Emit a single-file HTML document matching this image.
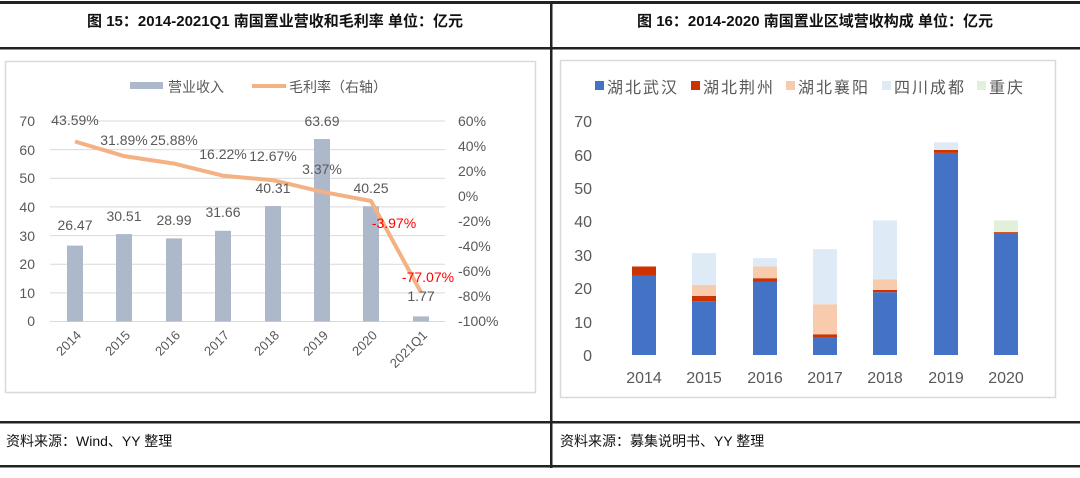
<!DOCTYPE html>
<html><head><meta charset="utf-8"><style>
body{margin:0;width:1080px;height:473px;background:#fff;overflow:hidden;font-family:"Liberation Sans","Noto Sans CJK SC",sans-serif}
</style></head><body>
<svg width="1080" height="473" xmlns="http://www.w3.org/2000/svg" font-family="Liberation Sans, Noto Sans CJK SC, sans-serif">
<rect x="0" y="1" width="1080" height="3" fill="#222"/>
<rect x="0" y="47" width="1080" height="2.5" fill="#222"/>
<rect x="0" y="421" width="1080" height="2.5" fill="#222"/>
<rect x="0" y="465" width="1080" height="2.5" fill="#222"/>
<rect x="550" y="1" width="2.5" height="467" fill="#222"/>
<text x="275" y="26" text-anchor="middle" font-size="15" font-weight="bold" fill="#111">图 15：2014-2021Q1 南国置业营收和毛利率 单位：亿元</text>
<text x="815" y="26" text-anchor="middle" font-size="15" font-weight="bold" fill="#111">图 16：2014-2020 南国置业区域营收构成 单位：亿元</text>
<text x="6" y="446" font-size="14" fill="#111">资料来源：Wind、YY 整理</text>
<text x="560" y="446" font-size="14" fill="#111">资料来源：募集说明书、YY 整理</text>

<!-- left chart -->
<rect x="5.5" y="61.5" width="530" height="331" fill="none" stroke="#d9d9d9" stroke-width="1.5"/>
<rect x="130" y="82" width="33" height="7" fill="#ADB9CA"/>
<text x="168" y="92" font-size="14" fill="#595959">营业收入</text>
<line x1="252" y1="86" x2="286" y2="86" stroke="#F4B183" stroke-width="4"/>
<text x="289" y="92" font-size="14" fill="#595959">毛利率（右轴）</text>
<g stroke="#d9d9d9" stroke-width="1">
<line x1="50" y1="121" x2="445" y2="121"/><line x1="50" y1="149.6" x2="445" y2="149.6"/><line x1="50" y1="178.3" x2="445" y2="178.3"/><line x1="50" y1="206.9" x2="445" y2="206.9"/><line x1="50" y1="235.6" x2="445" y2="235.6"/><line x1="50" y1="264.2" x2="445" y2="264.2"/><line x1="50" y1="292.9" x2="445" y2="292.9"/><line x1="50" y1="321.5" x2="445" y2="321.5"/>
</g>
<g font-size="14" fill="#595959" text-anchor="end">
<text x="35" y="126">70</text><text x="35" y="155">60</text><text x="35" y="183">50</text><text x="35" y="212">40</text><text x="35" y="241">30</text><text x="35" y="269">20</text><text x="35" y="298">10</text><text x="35" y="326">0</text>
</g>
<g font-size="14" fill="#595959">
<text x="458" y="126">60%</text><text x="458" y="151">40%</text><text x="458" y="176">20%</text><text x="458" y="201">0%</text><text x="458" y="226">-20%</text><text x="458" y="251">-40%</text><text x="458" y="276">-60%</text><text x="458" y="301">-80%</text><text x="458" y="326">-100%</text>
</g>
<g fill="#ADB9CA">
<rect x="67" y="245.6" width="16" height="75.9"/>
<rect x="116" y="234.1" width="16" height="87.4"/>
<rect x="166" y="238.4" width="16" height="83.1"/>
<rect x="215" y="230.8" width="16" height="90.7"/>
<rect x="265" y="206" width="16" height="115.5"/>
<rect x="314" y="139" width="16" height="182.5"/>
<rect x="363" y="206.2" width="16" height="115.3"/>
<rect x="413" y="316.4" width="16" height="5.1"/>
</g>
<polyline fill="none" stroke="#F4B183" stroke-width="4" stroke-linejoin="round" points="75,141.5 124,156.1 174,163.6 223,175.7 273,180.2 322,191.8 371,201 421,292.3"/>
<g font-size="14" fill="#595959" text-anchor="middle">
<text x="75" y="125">43.59%</text><text x="124" y="145">31.89%</text><text x="174" y="145">25.88%</text><text x="223" y="159">16.22%</text><text x="273" y="161">12.67%</text><text x="322" y="174">3.37%</text><text x="322" y="126">63.69</text>
<text x="273" y="193">40.31</text><text x="371" y="193">40.25</text>
<text x="75" y="230">26.47</text><text x="124" y="221">30.51</text><text x="174" y="225">28.99</text><text x="223" y="217">31.66</text><text x="421" y="301">1.77</text>
</g>
<text x="394" y="228" font-size="14" fill="#ff0000" text-anchor="middle">-3.97%</text>
<text x="428" y="282" font-size="14" fill="#ff0000" text-anchor="middle">-77.07%</text>
<g font-size="13" fill="#595959" text-anchor="end">
<text transform="translate(82,336) rotate(-45)">2014</text>
<text transform="translate(131,336) rotate(-45)">2015</text>
<text transform="translate(181,336) rotate(-45)">2016</text>
<text transform="translate(230,336) rotate(-45)">2017</text>
<text transform="translate(280,336) rotate(-45)">2018</text>
<text transform="translate(329,336) rotate(-45)">2019</text>
<text transform="translate(378,336) rotate(-45)">2020</text>
<text transform="translate(428,336) rotate(-45)">2021Q1</text>
</g>

<!-- right chart -->
<rect x="560.5" y="60.5" width="495" height="337" fill="none" stroke="#d9d9d9" stroke-width="1.5"/>
<g font-size="16" fill="#595959" letter-spacing="2">
<rect x="595" y="81" width="9" height="9" fill="#4472C4"/><text x="607" y="93">湖北武汉</text>
<rect x="691" y="81" width="9" height="9" fill="#CC3300"/><text x="703" y="93">湖北荆州</text>
<rect x="786" y="81" width="9" height="9" fill="#F8CBAD"/><text x="798" y="93">湖北襄阳</text>
<rect x="882" y="81" width="9" height="9" fill="#DEEBF7"/><text x="894" y="93">四川成都</text>
<rect x="977" y="81" width="9" height="9" fill="#E2F0D9"/><text x="989" y="93">重庆</text>
</g>
<g font-size="16" fill="#595959" text-anchor="end">
<text x="592" y="127">70</text><text x="592" y="161">60</text><text x="592" y="194">50</text><text x="592" y="227">40</text><text x="592" y="261">30</text><text x="592" y="294">20</text><text x="592" y="328">10</text><text x="592" y="361">0</text>
</g>
<g font-size="16" fill="#595959" text-anchor="middle">
<text x="644" y="383">2014</text><text x="704" y="383">2015</text><text x="765" y="383">2016</text><text x="825" y="383">2017</text><text x="885" y="383">2018</text><text x="946" y="383">2019</text><text x="1006" y="383">2020</text>
</g>
<g>
<rect x="632" y="275.5" width="24" height="79.5" fill="#4472C4"/><rect x="632" y="266.5" width="24" height="9" fill="#CC3300"/>
<rect x="692" y="301.2" width="24" height="53.8" fill="#4472C4"/><rect x="692" y="295.9" width="24" height="5.3" fill="#CC3300"/><rect x="692" y="284.9" width="24" height="11" fill="#F8CBAD"/><rect x="692" y="253.1" width="24" height="31.8" fill="#DEEBF7"/>
<rect x="753" y="281.5" width="24" height="73.5" fill="#4472C4"/><rect x="753" y="278.2" width="24" height="3.3" fill="#CC3300"/><rect x="753" y="266.5" width="24" height="11.7" fill="#F8CBAD"/><rect x="753" y="258.1" width="24" height="8.4" fill="#DEEBF7"/>
<rect x="813" y="337" width="24" height="18" fill="#4472C4"/><rect x="813" y="334.3" width="24" height="2.7" fill="#CC3300"/><rect x="813" y="304.2" width="24" height="30.1" fill="#F8CBAD"/><rect x="813" y="249.1" width="24" height="55.1" fill="#DEEBF7"/>
<rect x="873" y="292.2" width="24" height="62.8" fill="#4472C4"/><rect x="873" y="289.9" width="24" height="2.3" fill="#CC3300"/><rect x="873" y="279.5" width="24" height="10.4" fill="#F8CBAD"/><rect x="873" y="220.4" width="24" height="59.1" fill="#DEEBF7"/>
<rect x="934" y="152.9" width="24" height="202.1" fill="#4472C4"/><rect x="934" y="149.9" width="24" height="3" fill="#CC3300"/><rect x="934" y="142.3" width="24" height="7.6" fill="#DEEBF7"/>
<rect x="994" y="233.8" width="24" height="121.2" fill="#4472C4"/><rect x="994" y="232.1" width="24" height="1.7" fill="#CC3300"/><rect x="994" y="220.4" width="24" height="11.7" fill="#E2F0D9"/>
</g>
</svg>
</body></html>
